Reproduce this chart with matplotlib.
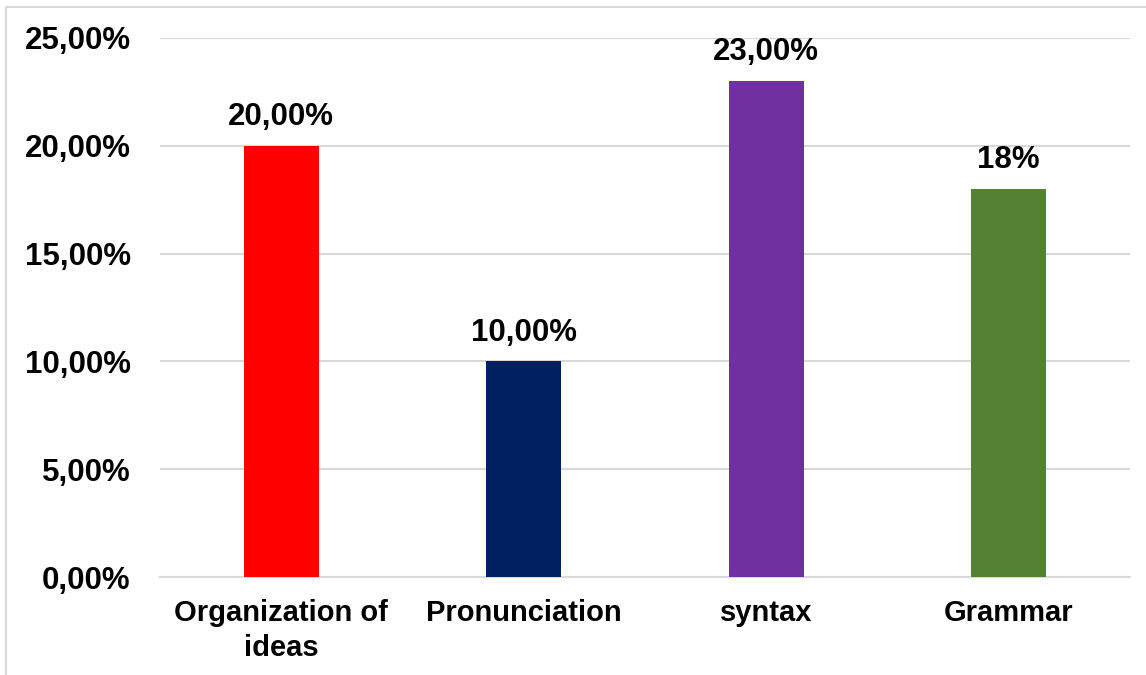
import matplotlib.pyplot as plt
from matplotlib.patches import Rectangle
from matplotlib.ticker import FuncFormatter

categories = ['Organization of\nideas', 'Pronunciation', 'syntax', 'Grammar']
values = [0.20, 0.10, 0.23, 0.18]
value_labels = ['20,00%', '10,00%', '23,00%', '18%']
colors = ['#FF0000', '#002060', '#7030A0', '#548235']

plt.rcParams['font.family'] = ['Liberation Sans', 'DejaVu Sans']
plt.rcParams['font.weight'] = 'bold'

fig = plt.figure(figsize=(11.46, 6.75), dpi=100)
ax = fig.add_axes([160 / 1146, 98 / 675, 970 / 1146, 539 / 675])

# light frame around the chart area
fig.patches.append(Rectangle((6 / 1146, -0.1), 1.2, 0.1 + 668 / 675,
                             transform=fig.transFigure, fill=False,
                             edgecolor='#d9d9d9', linewidth=1.5))

x = range(len(categories))
ax.bar(x, values, width=0.31, color=colors, zorder=3)

for xi, v, lab in zip(x, values, value_labels):
    ax.annotate(lab, (xi, v), xytext=(0, 10), textcoords='offset points',
                ha='center', va='bottom', fontsize=22.5, fontweight='bold')

ax.set_xlim(-0.5, 3.5)
ax.set_ylim(0, 0.25)
ax.set_yticks([0, 0.05, 0.10, 0.15, 0.20, 0.25])
ax.yaxis.set_major_formatter(FuncFormatter(lambda v, _: f'{v * 100:.2f}%'.replace('.', ',')))
ax.set_xticks(list(x))
ax.set_xticklabels(categories, linespacing=1.3)

ax.tick_params(axis='y', length=0, pad=21, labelsize=22.5)
ax.tick_params(axis='x', length=0, pad=16, labelsize=21)
for lbl in ax.get_xticklabels() + ax.get_yticklabels():
    lbl.set_fontweight('bold')

ax.grid(axis='y', color='#d9d9d9', linewidth=1.5, zorder=0)
for side in ['top', 'right', 'left']:
    ax.spines[side].set_visible(False)
ax.spines['bottom'].set_color('#d9d9d9')
ax.spines['bottom'].set_linewidth(1.5)

fig.savefig('out.png', dpi=100)
